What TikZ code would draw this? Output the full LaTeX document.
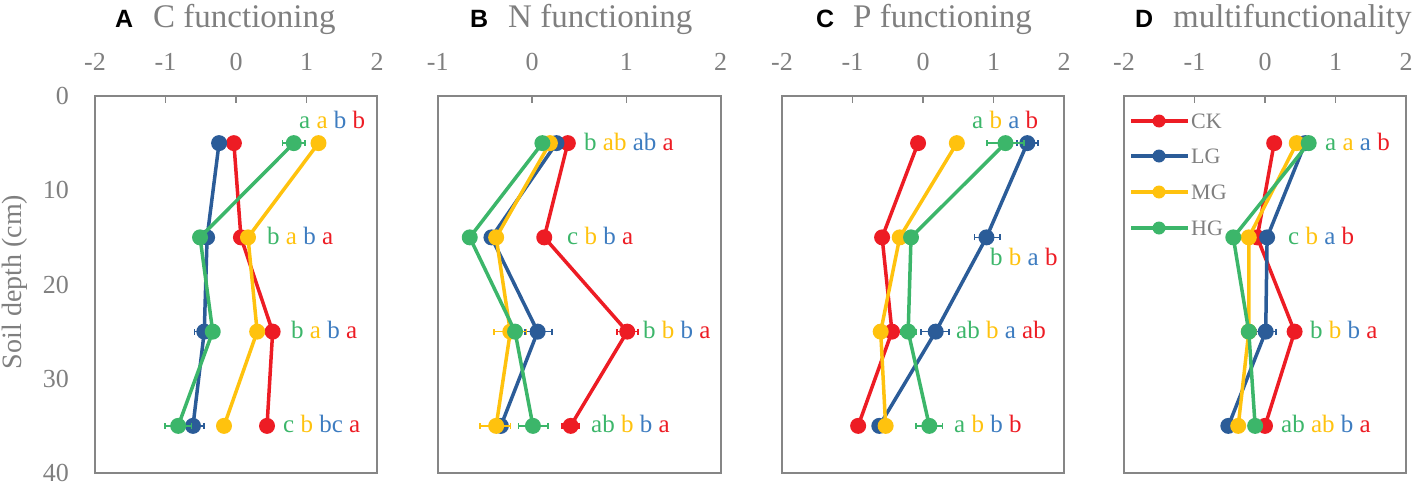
\documentclass[tikz,border=0pt]{standalone}
\usepackage{fontspec}
\setmainfont{Liberation Serif}
\newfontfamily\panelfont{Liberation Sans}
\usetikzlibrary{arrows.meta}

\definecolor{ckc}{HTML}{ED1C24}
\definecolor{lgc}{HTML}{2B5C98}
\definecolor{lgtxt}{HTML}{3D7CC0}
\definecolor{mgc}{HTML}{FFC20E}
\definecolor{hgc}{HTML}{3CB66A}
\definecolor{axisgray}{HTML}{7F7F7F}
\definecolor{framegray}{HTML}{868686}

% significance letters: HG MG LG CK
\newcommand\siglet[4]{{\color{hgc}#1} {\color{mgc}#2} {\color{lgtxt}#3} {\color{ckc}#4}}

\tikzset{
  frame/.style={draw=framegray, line width=2pt},
  tck/.style={draw=framegray, line width=1.6pt},
  ticklbl/.style={text=axisgray, inner sep=0pt, font=\fontsize{26}{30}\selectfont},
  ttl/.style={text=axisgray, inner sep=0pt, anchor=base west, font=\fontsize{33}{38}\selectfont},
  plabel/.style={inner sep=0pt, anchor=base west, font=\panelfont\bfseries\fontsize{25}{30}\selectfont},
  grp/.style={inner sep=0pt, anchor=base west, font=\fontsize{25}{30}\selectfont},
  leglbl/.style={text=axisgray, inner sep=0pt, anchor=west, font=\fontsize{22}{26}\selectfont},
  ckline/.style={draw=ckc, line width=3.5pt, line join=round},
  lgline/.style={draw=lgc, line width=3.5pt, line join=round},
  mgline/.style={draw=mgc, line width=3.5pt, line join=round},
  hgline/.style={draw=hgc, line width=3.5pt, line join=round},
  err/.style={line width=1.6pt, {Bar[width=6pt]}-{Bar[width=6pt]}},
}

\begin{document}
\begin{tikzpicture}[x=1pt,y=-1pt]
\useasboundingbox (0,0) rectangle (1417,482);

% y axis (panel A only)
\node[ticklbl, anchor=east] (y0) at (69,96) {0};
\node[ticklbl, anchor=east] (y10) at (69,190) {10};
\node[ticklbl, anchor=east] (y20) at (69,285) {20};
\node[ticklbl, anchor=east] (y30) at (69,379) {30};
\node[ticklbl, anchor=east] (y40) at (69,473) {40};
\node[ticklbl, rotate=90, font=\fontsize{28}{32}\selectfont] (ytitle) at (15,282) {Soil depth (cm)};

%%%%%%%%%%%%%%%% A
\node[plabel] (pA) at (115,27) {A};
\node[ttl] (tA) at (153,27) {C functioning};
\begin{scope}[shift={(236,96)}, x=70.5pt, y=-9.425pt]
\draw[frame] (-2,0) rectangle (2,40);
\foreach \t in {-1,0,1} \draw[tck] (\t,0) -- ++(0,-7pt);
\foreach \t in {-2,-1,0,1,2} \node[ticklbl] (xA\t) at (\t,-3.6) {\t};
% CK
\draw[ckline] (-0.03,5) -- (0.07,15) -- (0.52,25) -- (0.44,35);
\foreach \v/\d in {-0.03/5,0.07/15,0.52/25,0.44/35} \fill[ckc] (\v,\d) circle (8pt);
% LG
\draw[err, lgc] (-0.6,25) -- (-0.3,25);
\draw[err, lgc] (-0.78,35) -- (-0.44,35);
\draw[lgline] (-0.24,5) -- (-0.41,15) -- (-0.45,25) -- (-0.61,35);
\foreach \v/\d in {-0.24/5,-0.41/15,-0.45/25,-0.61/35} \fill[lgc] (\v,\d) circle (8pt);
% MG
\draw[mgline] (1.17,5) -- (0.17,15) -- (0.3,25) -- (-0.17,35);
\foreach \v/\d in {1.17/5,0.17/15,0.3/25,-0.17/35} \fill[mgc] (\v,\d) circle (8pt);
% HG
\draw[err, hgc] (0.65,5) -- (0.99,5);
\draw[err, hgc] (-0.43,25) -- (-0.23,25);
\draw[err, hgc] (-1.02,35) -- (-0.62,35);
\draw[hgline] (0.82,5) -- (-0.51,15) -- (-0.33,25) -- (-0.82,35);
\foreach \v/\d in {0.82/5,-0.51/15,-0.33/25,-0.82/35} \fill[hgc] (\v,\d) circle (8pt);
\end{scope}
\node[grp] (sA5) at (299,128) {\siglet{a}{a}{b}{b}};
\node[grp] (sA15) at (267,244) {\siglet{b}{a}{b}{a}};
\node[grp] (sA25) at (291,338) {\siglet{b}{a}{b}{a}};
\node[grp] (sA35) at (283,432) {\siglet{c}{b}{bc}{a}};

%%%%%%%%%%%%%%%% B
\node[plabel] (pB) at (470,27) {B};
\node[ttl] (tB) at (508,27) {N functioning};
\begin{scope}[shift={(532,96)}, x=94.3pt, y=-9.425pt]
\draw[frame] (-1,0) rectangle (2,40);
\foreach \t in {0,1} \draw[tck] (\t,0) -- ++(0,-7pt);
\foreach \t in {-1,0,1,2} \node[ticklbl] (xB\t) at (\t,-3.6) {\t};
% CK
\draw[err, ckc] (0.89,25) -- (1.13,25);
\draw[err, ckc] (0.31,35) -- (0.51,35);
\draw[ckline] (0.38,5) -- (0.13,15) -- (1.01,25) -- (0.41,35);
\foreach \v/\d in {0.38/5,0.13/15,1.01/25,0.41/35} \fill[ckc] (\v,\d) circle (8pt);
% LG
\draw[err, lgc] (-0.08,25) -- (0.22,25);
\draw[lgline] (0.26,5) -- (-0.43,15) -- (0.06,25) -- (-0.33,35);
\foreach \v/\d in {0.26/5,-0.43/15,0.06/25,-0.33/35} \fill[lgc] (\v,\d) circle (8pt);
% MG
\draw[err, mgc] (-0.41,25) -- (-0.05,25);
\draw[err, mgc] (-0.56,35) -- (-0.22,35);
\draw[mgline] (0.19,5) -- (-0.38,15) -- (-0.23,25) -- (-0.38,35);
\foreach \v/\d in {0.19/5,-0.38/15,-0.23/25,-0.38/35} \fill[mgc] (\v,\d) circle (8pt);
% HG
\draw[err, hgc] (-0.15,35) -- (0.18,35);
\draw[hgline] (0.11,5) -- (-0.66,15) -- (-0.18,25) -- (0.01,35);
\foreach \v/\d in {0.11/5,-0.66/15,-0.18/25,0.01/35} \fill[hgc] (\v,\d) circle (8pt);
\end{scope}
\node[grp] (sB5) at (584,150) {\siglet{b}{ab}{ab}{a}};
\node[grp] (sB15) at (567,244) {\siglet{c}{b}{b}{a}};
\node[grp] (sB25) at (643,338) {\siglet{b}{b}{b}{a}};
\node[grp] (sB35) at (591,432) {\siglet{ab}{b}{b}{a}};

%%%%%%%%%%%%%%%% C
\node[plabel] (pC) at (816,27) {C};
\node[ttl] (tC) at (853,27) {P functioning};
\begin{scope}[shift={(923,96)}, x=70.5pt, y=-9.425pt]
\draw[frame] (-2,0) rectangle (2,40);
\foreach \t in {-1,0,1} \draw[tck] (\t,0) -- ++(0,-7pt);
\foreach \t in {-2,-1,0,1,2} \node[ticklbl] (xC\t) at (\t,-3.6) {\t};
% CK
\draw[ckline] (-0.07,5) -- (-0.58,15) -- (-0.44,25) -- (-0.92,35);
\foreach \v/\d in {-0.07/5,-0.58/15,-0.44/25,-0.92/35} \fill[ckc] (\v,\d) circle (8pt);
% LG
\draw[err, lgc] (1.32,5) -- (1.64,5);
\draw[err, lgc] (0.72,15) -- (1.1,15);
\draw[err, lgc] (-0.04,25) -- (0.38,25);
\draw[lgline] (1.48,5) -- (0.9,15) -- (0.18,25) -- (-0.62,35);
\foreach \v/\d in {1.48/5,0.9/15,0.18/25,-0.62/35} \fill[lgc] (\v,\d) circle (8pt);
% MG
\draw[mgline] (0.48,5) -- (-0.33,15) -- (-0.6,25) -- (-0.53,35);
\foreach \v/\d in {0.48/5,-0.33/15,-0.6/25,-0.53/35} \fill[mgc] (\v,\d) circle (8pt);
% HG
\draw[err, hgc] (0.9,5) -- (1.44,5);
\draw[err, hgc] (-0.33,25) -- (-0.09,25);
\draw[err, hgc] (-0.11,35) -- (0.29,35);
\draw[hgline] (1.17,5) -- (-0.17,15) -- (-0.21,25) -- (0.09,35);
\foreach \v/\d in {1.17/5,-0.17/15,-0.21/25,0.09/35} \fill[hgc] (\v,\d) circle (8pt);
\end{scope}
\node[grp] (sC5) at (972,128) {\siglet{a}{b}{a}{b}};
\node[grp] (sC15) at (990,265) {\siglet{b}{b}{a}{b}};
\node[grp] (sC25) at (956,338) {\siglet{ab}{b}{a}{ab}};
\node[grp] (sC35) at (954,432) {\siglet{a}{b}{b}{b}};

%%%%%%%%%%%%%%%% D
\node[plabel] (pD) at (1135,27) {D};
\node[ttl] (tD) at (1173,27) {multifunctionality};
\begin{scope}[shift={(1265,96)}, x=70.5pt, y=-9.425pt]
\draw[frame] (-2,0) rectangle (2,40);
\foreach \t in {-1,0,1} \draw[tck] (\t,0) -- ++(0,-7pt);
\foreach \t in {-2,-1,0,1,2} \node[ticklbl] (xD\t) at (\t,-3.6) {\t};
% CK
\draw[ckline] (0.13,5) -- (-0.11,15) -- (0.42,25) -- (0.0,35);
\foreach \v/\d in {0.13/5,-0.11/15,0.42/25,0.0/35} \fill[ckc] (\v,\d) circle (8pt);
% LG
\draw[err, lgc] (-0.14,25) -- (0.17,25);
\draw[lgline] (0.57,5) -- (0.03,15) -- (0.01,25) -- (-0.52,35);
\foreach \v/\d in {0.57/5,0.03/15,0.01/25,-0.52/35} \fill[lgc] (\v,\d) circle (8pt);
% MG
\draw[mgline] (0.45,5) -- (-0.23,15) -- (-0.23,25) -- (-0.38,35);
\foreach \v/\d in {0.45/5,-0.23/15,-0.23/25,-0.38/35} \fill[mgc] (\v,\d) circle (8pt);
% HG
\draw[hgline] (0.62,5) -- (-0.45,15) -- (-0.23,25) -- (-0.14,35);
\foreach \v/\d in {0.62/5,-0.45/15,-0.23/25,-0.14/35} \fill[hgc] (\v,\d) circle (8pt);
\end{scope}
\node[grp] (sD5) at (1325,150) {\siglet{a}{a}{a}{b}};
\node[grp] (sD15) at (1288,244) {\siglet{c}{b}{a}{b}};
\node[grp] (sD25) at (1310,338) {\siglet{b}{b}{b}{a}};
\node[grp] (sD35) at (1281,432) {\siglet{ab}{ab}{b}{a}};

% legend
\foreach \s/\c/\yy in {CK/ckc/121,LG/lgc/156,MG/mgc/192,HG/hgc/228}{
  \coordinate (l\s a) at (1131,\yy);
  \coordinate (l\s b) at (1188,\yy);
  \draw[draw=\c, line width=3.5pt] (l\s a) -- (l\s b);
  \fill[\c] (1159,\yy) circle (6.5pt);
  \node[leglbl] (leg\s) at (1191,\yy) {\s};
}

\end{tikzpicture}
\end{document}
